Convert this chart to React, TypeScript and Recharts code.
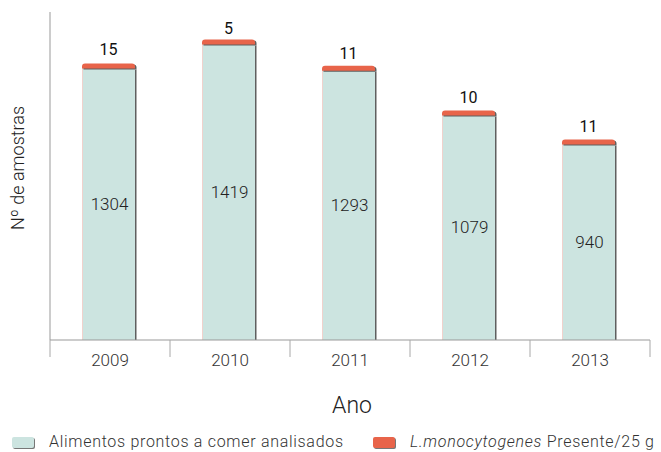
import React from 'react';
import { BarChart, Bar, XAxis, YAxis, LabelList } from 'recharts';

const years = ['2009', '2010', '2011', '2012', '2013'];
const analisados = [1304, 1419, 1293, 1079, 940];
const positivos = [15, 5, 11, 10, 11];

const W = 661;
const H = 452;
const margin = { top: 12, right: 11, left: 0, bottom: 32 };
const yAxisWidth = 50;
const bandWidth = (W - margin.left - margin.right - yAxisWidth) / years.length;

const TEAL = '#cce4e0';
const RED = '#e8644a';
const SHADOW = '#5f5f5f';
const FONT = 'Roboto, "Liberation Sans", sans-serif';

const data = years.map((year, i) => ({
  year,
  analisados: analisados[i],
  positivos: positivos[i],
}));

// rect with rounded top corners
function topRounded(x: number, y: number, w: number, h: number, r: number) {
  const rr = Math.min(r, h);
  return `M${x},${y + h} L${x},${y + rr} Q${x},${y} ${x + rr},${y} L${x + w - rr},${y} Q${x + w},${y} ${x + w},${y + rr} L${x + w},${y + h} Z`;
}

// bars sit a touch left of the band centre, with a thin grey shadow on the right
const TealShape = (props: any) => {
  const { y, width, height } = props;
  const x = props.x - 2;
  return (
    <g>
      <rect x={x + 1.5} y={y + 2} width={width} height={height - 2} fill={SHADOW} />
      <rect x={x} y={y} width={width} height={height} fill={TEAL} />
      <line x1={x + 0.5} y1={y} x2={x + 0.5} y2={y + height} stroke="#f0d2cd" strokeWidth={1} />
    </g>
  );
};

const RedShape = (props: any) => {
  const { y, width, height } = props;
  const x = props.x - 2;
  const h = Math.max(height, 4);
  const top = y + height - h;
  return (
    <g>
      <path d={topRounded(x + 1.5, top + 1, width, h + 1, 3)} fill={SHADOW} />
      <path d={topRounded(x, top, width, h + 1, 3)} fill={RED} />
    </g>
  );
};

const YearTick = (props: any) => {
  const { x, y, payload, index } = props;
  const half = bandWidth / 2;
  return (
    <g>
      <line x1={x - half} y1={y} x2={x - half} y2={y + 17} stroke="#a8a8a8" strokeWidth={1} />
      {index === years.length - 1 && (
        <line x1={x + half} y1={y} x2={x + half} y2={y + 17} stroke="#a8a8a8" strokeWidth={1} />
      )}
      <text x={x} y={y + 26} textAnchor="middle" fontSize={17} fontFamily={FONT} fontWeight={300} fill="#333">
        {payload.value}
      </text>
    </g>
  );
};

const legendText: React.CSSProperties = {
  position: 'absolute',
  top: 433,
  fontFamily: FONT,
  fontWeight: 300,
  fontSize: 16,
  letterSpacing: 0.7,
  color: '#333',
  whiteSpace: 'nowrap',
  lineHeight: '18px',
};

const swatch = (left: number, color: string): React.CSSProperties => ({
  position: 'absolute',
  left,
  top: 437,
  width: 22,
  height: 11,
  background: color,
  borderRadius: 2,
  boxShadow: '1px 1px 0 #777',
});

export default function App() {
  return (
    <div style={{ position: 'absolute', left: 0, top: 0, width: W, height: H, background: '#fff' }}>
      <BarChart width={W} height={H} data={data} margin={margin} barSize={53}>
        <XAxis
          dataKey="year"
          axisLine={{ stroke: '#999', strokeWidth: 1 }}
          tickLine={false}
          tickSize={0}
          tickMargin={0}
          tick={<YearTick />}
          height={80}
          interval={0}
          label={{
            content: ({ viewBox }: any) => (
              <text
                x={viewBox.x + viewBox.width / 2 + 2}
                y={viewBox.y + 73}
                textAnchor="middle"
                fontSize={23}
                fontFamily={FONT}
                fontWeight={300}
                fill="#222"
              >
                Ano
              </text>
            ),
          }}
        />
        <YAxis
          width={yAxisWidth}
          domain={[0, 1570]}
          tick={false}
          tickLine={false}
          axisLine={{ stroke: '#999', strokeWidth: 1 }}
          label={{
            content: ({ viewBox }: any) => {
              const cx = 17;
              const cy = viewBox.y + viewBox.height / 2 - 8;
              return (
                <text
                  x={cx}
                  y={cy}
                  transform={`rotate(-90 ${cx} ${cy})`}
                  textAnchor="middle"
                  dominantBaseline="central"
                  fontSize={18}
                  fontFamily={FONT}
                  fontWeight={300}
                  fill="#222"
                >
                  Nº de amostras
                </text>
              );
            },
          }}
        />
        <Bar dataKey="analisados" stackId="a" shape={<TealShape />} isAnimationActive={false}>
          <LabelList
            dataKey="analisados"
            position="center"
            fontSize={17}
            fontFamily={FONT}
            fontWeight={300}
            fill="#222"
            dx={-1}
          />
        </Bar>
        <Bar dataKey="positivos" stackId="a" shape={<RedShape />} isAnimationActive={false}>
          <LabelList
            dataKey="positivos"
            position="top"
            offset={9}
            fontSize={16}
            fontFamily={FONT}
            fontWeight={400}
            fill="#111"
            dx={-2}
          />
        </Bar>
      </BarChart>
      <div style={swatch(12, TEAL)} />
      <div style={{ ...legendText, left: 49 }}>Alimentos prontos a comer analisados</div>
      <div style={swatch(373, RED)} />
      <div style={{ ...legendText, left: 410 }}>
        <i>L.monocytogenes</i> Presente/25 g
      </div>
    </div>
  );
}
